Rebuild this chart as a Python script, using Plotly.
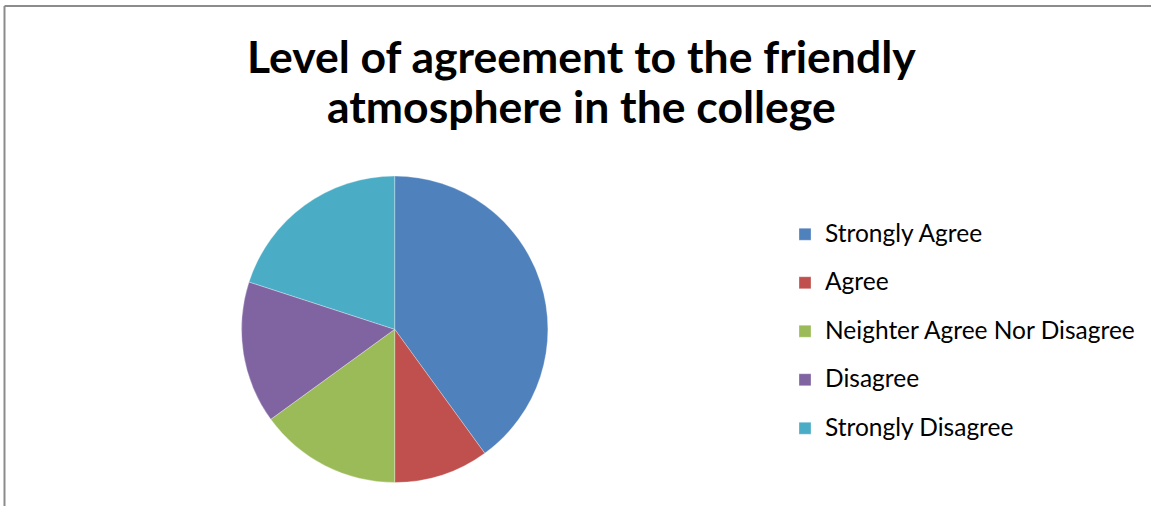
import plotly.graph_objects as go

labels = ["Strongly Agree", "Agree", "Neighter Agree Nor Disagree", "Disagree", "Strongly Disagree"]
values = [40, 10, 15, 15, 20]
colors = ["#4F81BD", "#C0504D", "#9BBB59", "#8064A2", "#4BACC6"]
title_lines = ["Level of agreement to the friendly", "atmosphere in the college"]

W, H = 1151, 506
cx, cy, r = 394.7, 329.3, 153.2

legend_text_size = 24.5
display_labels = [
    f"<span style='font-size:{legend_text_size}px;baseline-shift:6px'>{l}</span>" for l in labels
]

fig = go.Figure(go.Pie(
    labels=display_labels,
    values=values,
    marker=dict(colors=colors, line=dict(color="rgba(255,255,255,0.6)", width=0.5)),
    sort=False,
    direction="clockwise",
    rotation=0,
    textinfo="none",
    hoverinfo="label+value+percent",
    domain=dict(x=[(cx - r) / W, (cx + r) / W], y=[(H - cy - r) / H, (H - cy + r) / H]),
))

title_font = dict(family="Lato, sans-serif", size=44.5, color="black", weight="bold")
annotations = []
for i, line in enumerate(title_lines):
    annotations.append(dict(
        text=line, xref="paper", yref="paper",
        x=581 / W, xanchor="center",
        y=1 - (55 + 50 * i) / H, yanchor="middle",
        showarrow=False, font=title_font,
    ))

fig.update_layout(
    width=W, height=H,
    margin=dict(l=0, r=0, t=0, b=0),
    paper_bgcolor="white",
    plot_bgcolor="white",
    font=dict(family="Lato, 'Open Sans', sans-serif", color="black"),
    annotations=annotations,
    legend=dict(
        x=785 / W, xanchor="left",
        y=1 - 205 / H, yanchor="top",
        font=dict(size=35, color="black"),
        bgcolor="rgba(0,0,0,0)",
        itemclick=False,
    ),
    showlegend=True,
    shapes=[
        dict(type="line", xref="paper", yref="paper", x0=4.5 / W, x1=1.01, y0=1 - 6 / H, y1=1 - 6 / H,
             line=dict(color="#8c8c8c", width=2)),
        dict(type="line", xref="paper", yref="paper", x0=4.5 / W, x1=4.5 / W, y0=-0.01, y1=1 - 6 / H,
             line=dict(color="#8c8c8c", width=2)),
    ],
)

fig.write_html(
    "out.html",
    config={"displayModeBar": False},
    post_script="document.body.style.margin='0px';document.body.style.overflow='hidden';",
)
